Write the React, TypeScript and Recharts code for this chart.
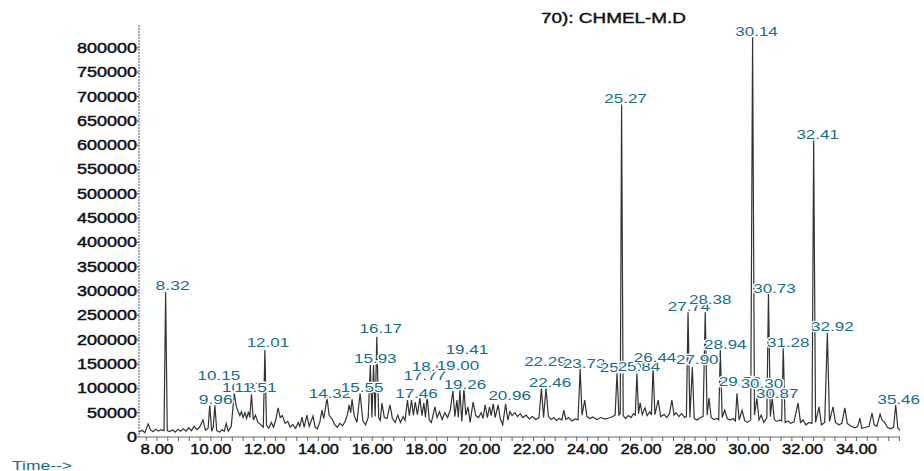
import { ComposedChart, Line, Scatter, XAxis, YAxis } from "recharts";

// retention time (min), abundance
const TRACE: [number, number][] = [
  [7.33, 10000], [7.45, 14000], [7.55, 9000], [7.67, 27000], [7.75, 15000], [7.85, 11000],
  [7.95, 16000], [8.05, 12000], [8.15, 15000], [8.26, 13000], [8.32, 298000], [8.38, 13000],
  [8.48, 11000], [8.58, 15000], [8.68, 10000], [8.78, 16000], [8.88, 12000], [8.98, 17000],
  [9.08, 12000], [9.18, 19000], [9.28, 13000], [9.38, 22000], [9.48, 15000], [9.58, 20000],
  [9.71, 35000], [9.8, 14000], [9.9, 18000], [9.96, 65000], [10.03, 12000], [10.09, 20000],
  [10.15, 65000], [10.22, 13000], [10.32, 10000], [10.42, 15000], [10.5, 12000], [10.57, 28000],
  [10.65, 12000], [10.76, 22000], [10.87, 90000], [10.95, 62000], [11.02, 52000], [11.08, 44000],
  [11.14, 52000], [11.2, 40000], [11.27, 50000], [11.33, 38000], [11.4, 52000], [11.45, 40000],
  [11.51, 88000], [11.58, 35000], [11.66, 45000], [11.75, 30000], [11.85, 26000], [11.95, 20000],
  [12.01, 179000], [12.07, 24000], [12.15, 18000], [12.25, 30000], [12.33, 20000], [12.42, 36000],
  [12.5, 60000], [12.58, 40000], [12.66, 44000], [12.76, 28000], [12.86, 32000], [12.95, 20000],
  [13.05, 26000], [13.15, 18000], [13.25, 30000], [13.31, 22000], [13.39, 41000], [13.47, 20000],
  [13.57, 45000], [13.66, 22000], [13.8, 43000], [13.88, 20000], [13.96, 17000], [14.05, 30000],
  [14.13, 55000], [14.2, 38000], [14.32, 80000], [14.4, 44000], [14.5, 38000], [14.6, 26000],
  [14.7, 20000], [14.8, 28000], [14.9, 23000], [15.0, 33000], [15.08, 46000], [15.14, 66000],
  [15.2, 50000], [15.25, 78000], [15.33, 44000], [15.43, 30000], [15.55, 90000], [15.65, 34000],
  [15.75, 25000], [15.85, 40000], [15.93, 148000], [15.99, 40000], [16.05, 148000], [16.11, 42000],
  [16.17, 206000], [16.24, 40000], [16.3, 34000], [16.36, 70000], [16.45, 40000], [16.55, 38000],
  [16.66, 66000], [16.75, 38000], [16.85, 30000], [16.95, 45000], [17.05, 30000], [17.15, 42000],
  [17.22, 34000], [17.31, 76000], [17.38, 44000], [17.46, 76000], [17.53, 45000], [17.6, 72000],
  [17.68, 46000], [17.77, 80000], [17.85, 44000], [17.92, 70000], [17.98, 40000], [18.04, 86000],
  [18.12, 35000], [18.2, 30000], [18.33, 62000], [18.41, 40000], [18.5, 52000], [18.6, 36000],
  [18.7, 50000], [18.8, 40000], [18.9, 55000], [19.0, 95000], [19.07, 42000], [19.15, 76000],
  [19.2, 40000], [19.26, 96000], [19.33, 32000], [19.41, 100000], [19.48, 45000], [19.56, 62000],
  [19.64, 30000], [19.75, 72000], [19.85, 44000], [19.95, 40000], [20.05, 50000], [20.12, 38000],
  [20.2, 66000], [20.28, 40000], [20.36, 62000], [20.42, 44000], [20.5, 68000], [20.57, 40000],
  [20.68, 66000], [20.76, 38000], [20.85, 25000], [20.96, 68000], [21.04, 35000], [21.12, 52000],
  [21.2, 44000], [21.3, 50000], [21.4, 42000], [21.5, 48000], [21.6, 40000], [21.72, 45000],
  [21.84, 37000], [21.95, 42000], [22.08, 36000], [22.2, 40000], [22.29, 100000], [22.37, 40000],
  [22.46, 100000], [22.55, 42000], [22.65, 36000], [22.75, 40000], [22.85, 34000], [22.95, 38000],
  [23.05, 35000], [23.12, 55000], [23.2, 36000], [23.3, 40000], [23.42, 33000], [23.55, 37000],
  [23.65, 35000], [23.73, 140000], [23.8, 45000], [23.9, 76000], [23.98, 42000], [24.1, 38000],
  [24.2, 41000], [24.35, 36000], [24.5, 40000], [24.65, 37000], [24.8, 39000], [24.95, 42000],
  [25.03, 45000], [25.1, 131000], [25.17, 45000], [25.22, 48000], [25.27, 683000], [25.33, 44000],
  [25.42, 38000], [25.52, 44000], [25.62, 40000], [25.72, 48000], [25.78, 45000], [25.84, 131000],
  [25.9, 48000], [25.96, 70000], [26.04, 46000], [26.14, 60000], [26.22, 44000], [26.32, 52000],
  [26.38, 45000], [26.44, 143000], [26.51, 46000], [26.63, 76000], [26.72, 42000], [26.85, 46000],
  [26.95, 40000], [27.05, 48000], [27.14, 76000], [27.22, 45000], [27.3, 50000], [27.4, 42000],
  [27.5, 48000], [27.62, 40000], [27.68, 42000], [27.74, 257000], [27.81, 40000], [27.9, 144000],
  [27.97, 38000], [28.08, 35000], [28.2, 40000], [28.3, 42000], [28.38, 257000], [28.45, 45000],
  [28.52, 80000], [28.6, 40000], [28.7, 36000], [28.82, 38000], [28.88, 35000], [28.94, 179000],
  [29.01, 40000], [29.1, 55000], [29.2, 38000], [29.3, 35000], [29.42, 38000], [29.5, 33000],
  [29.56, 90000], [29.64, 35000], [29.75, 55000], [29.85, 33000], [29.95, 30000], [30.07, 35000],
  [30.14, 822000], [30.21, 45000], [30.3, 80000], [30.38, 35000], [30.46, 45000], [30.56, 30000],
  [30.67, 40000], [30.73, 296000], [30.8, 42000], [30.87, 80000], [30.95, 35000], [31.05, 32000],
  [31.15, 35000], [31.22, 33000], [31.28, 183000], [31.35, 30000], [31.45, 33000], [31.56, 28000],
  [31.68, 31000], [31.83, 70000], [31.92, 30000], [32.02, 35000], [32.12, 25000], [32.24, 30000],
  [32.35, 28000], [32.41, 610000], [32.48, 30000], [32.61, 62000], [32.7, 25000], [32.82, 30000],
  [32.92, 214000], [33.0, 32000], [33.13, 62000], [33.22, 30000], [33.35, 25000], [33.46, 28000],
  [33.57, 60000], [33.66, 28000], [33.8, 22000], [33.95, 19000], [34.05, 22000], [34.13, 39000],
  [34.2, 18000], [34.35, 20000], [34.47, 22000], [34.58, 49000], [34.66, 25000], [34.76, 22000],
  [34.88, 47000], [34.95, 35000], [35.05, 30000], [35.15, 20000], [35.27, 17000], [35.38, 20000],
  [35.46, 66000], [35.54, 18000], [35.62, 14000],
];

// labelled peaks, in the order they get drawn
const PEAK_RT = [
  "8.32", "9.96", "10.15", "10.87", "11.51", "12.01", "14.32", "15.55", "15.93", "16.17",
  "17.46", "17.77", "18.04", "19.00", "19.26", "19.41", "20.96", "22.29", "22.46", "23.73",
  "25.10", "25.27", "25.84", "26.44", "27.74", "27.90", "28.38", "28.94", "29.56", "30.14",
  "30.30", "30.73", "30.87", "31.28", "32.41", "32.92", "35.46",
];

const Y_TICKS = [
  0, 50000, 100000, 150000, 200000, 250000, 300000, 350000, 400000,
  450000, 500000, 550000, 600000, 650000, 700000, 750000, 800000,
];
const X_LABELS = [
  "8.00", "10.00", "12.00", "14.00", "16.00", "18.00", "20.00",
  "22.00", "24.00", "26.00", "28.00", "30.00", "32.00", "34.00",
];

// label offset from the apex, px (default 4, -6)
const LABEL_NUDGE: Record<string, [number, number]> = {
  "8.32": [7, -7],
  "9.96": [6, -6],
  "10.15": [4, -30],
  "10.87": [9, -6],
  "11.51": [4, -7],
  "12.01": [3, -7],
  "14.32": [3, -5],
  "15.55": [2, -6],
  "15.93": [5, -7],
  "16.17": [4, -8],
  "17.46": [5, -7],
  "17.77": [5, -23],
  "18.04": [6, -29],
  "19.00": [5, -25],
  "19.26": [5, -6],
  "19.41": [3, -39],
  "20.96": [4, -8],
  "22.29": [4, -27],
  "23.73": [4, -5],
  "25.84": [2, -7],
  "26.44": [2, -10],
  "27.74": [1, -5],
  "27.90": [5, -7],
  "28.38": [5, -12],
  "28.94": [5, -5],
  "29.56": [3, -12],
  "30.30": [5, -15],
  "30.73": [6, -5],
  "30.87": [5, -5],
  "31.28": [5, -5],
  "32.92": [5, -6],
  "35.46": [3, -5],
};

const FONT = "'Liberation Sans', Arial, sans-serif";
const TEAL = "#176d88";
const INK = "#111";

const data = TRACE.map(([t, v]) => ({ t, v }));
const peaks = PEAK_RT.map((rt) => {
  const t = parseFloat(rt);
  const hit = TRACE.find(([pt]) => pt === t);
  return { t, v: hit ? hit[1] : 0, rt };
});

const xTicks: number[] = [];
for (let i = 0; i <= 70; i++) xTicks.push(Math.round((7.6 + i * 0.4) * 10) / 10);

function XTick({ x, y, payload }: any) {
  const label = X_LABELS.find((s) => parseFloat(s) === payload.value);
  if (!label) return null;
  return (
    <text
      x={x}
      y={y + 6}
      textAnchor="middle"
      dominantBaseline="central"
      fontSize={14}
      fontFamily={FONT}
      fill={INK}
      stroke={INK}
      strokeWidth={0.45}
      textLength={label.length * 8.2}
      lengthAdjust="spacingAndGlyphs"
    >
      {label}
    </text>
  );
}

function YTick({ x, y, payload }: any) {
  const label = String(payload.value);
  return (
    <text
      x={x}
      y={y}
      textAnchor="end"
      dominantBaseline="central"
      fontSize={14}
      fontFamily={FONT}
      fill={INK}
      stroke={INK}
      strokeWidth={0.45}
      textLength={label.length * 10}
      lengthAdjust="spacingAndGlyphs"
    >
      {label}
    </text>
  );
}

function PeakLabel({ cx, cy, payload }: any) {
  const [dx, dy] = LABEL_NUDGE[payload.rt] ?? [4, -6];
  return (
    <text
      x={cx + dx}
      y={cy + dy}
      textAnchor="middle"
      dominantBaseline="central"
      fontSize={13}
      fontFamily={FONT}
      fill={TEAL}
      stroke="#fff"
      strokeWidth={2.5}
      paintOrder="stroke"
      textLength={payload.rt.length * 8.5}
      lengthAdjust="spacingAndGlyphs"
    >
      {payload.rt}
    </text>
  );
}

export default function App() {
  return (
    <div style={{ position: "absolute", left: 0, top: 0, width: 924, height: 471, background: "#fff" }}>
      <ComposedChart
        width={924}
        height={471}
        data={data}
        margin={{ top: 25, right: 24, left: 0, bottom: 0 }}
      >
        <XAxis
          dataKey="t"
          type="number"
          domain={[7.33, 35.62]}
          ticks={xTicks}
          interval={0}
          height={34}
          tick={<XTick />}
          tickSize={4}
          axisLine={{ stroke: "#666" }}
          tickLine={{ stroke: "#666" }}
        />
        <YAxis
          type="number"
          domain={[0, 847000]}
          ticks={Y_TICKS}
          interval={0}
          width={139}
          tick={<YTick />}
          tickSize={2}
          tickMargin={0}
          axisLine={{ stroke: "#555", strokeDasharray: "2 1" }}
          tickLine={{ stroke: "#555" }}
        />
        <Line
          type="linear"
          dataKey="v"
          stroke="#333"
          strokeWidth={1.2}
          dot={false}
          activeDot={false}
          isAnimationActive={false}
        />
        <Scatter data={peaks} dataKey="v" shape={<PeakLabel />} isAnimationActive={false} />
      </ComposedChart>
      <svg
        width={924}
        height={471}
        style={{ position: "absolute", left: 0, top: 0, pointerEvents: "none" }}
      >
        <text
          x={541}
          y={18}
          dominantBaseline="central"
          fontSize={14}
          fontFamily={FONT}
          fill={INK}
          stroke={INK}
          strokeWidth={0.4}
          textLength={145}
          lengthAdjust="spacingAndGlyphs"
        >
          70): CHMEL-M.D
        </text>
        <text
          x={12}
          y={465}
          dominantBaseline="central"
          fontSize={13}
          fontFamily={FONT}
          fill={TEAL}
          textLength={60}
          lengthAdjust="spacingAndGlyphs"
        >
          Time--&gt;
        </text>
      </svg>
    </div>
  );
}
